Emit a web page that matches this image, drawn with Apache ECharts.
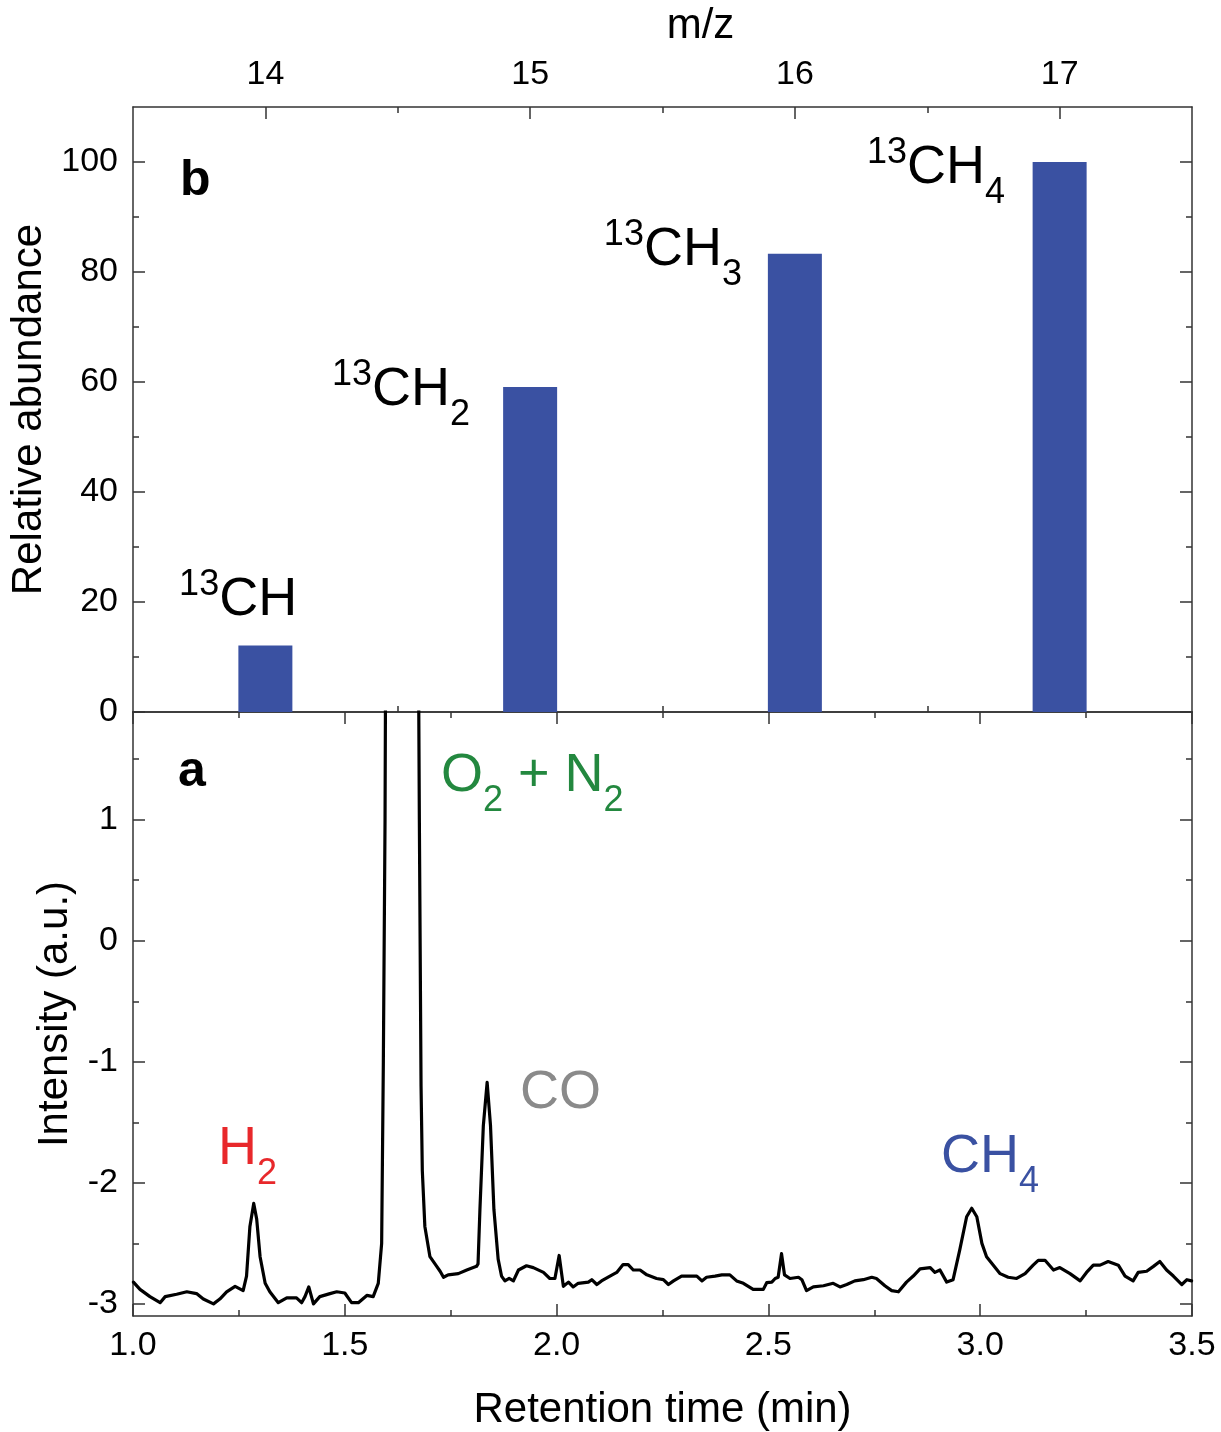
<!DOCTYPE html>
<html>
<head>
<meta charset="utf-8">
<script src="https://cdn.jsdelivr.net/npm/echarts@6/dist/echarts.min.js"></script>
<style>
  html, body { margin: 0; padding: 0; background: #fff; }
  #main { width: 1221px; height: 1432px; }
</style>
</head>
<body>
<div id="main"></div>
<script>
// panel b: mass spectrum of 13CH4
var mzValues = [14, 15, 16, 17];
var abundance = [12.1, 59.1, 83.3, 100];
var abundanceTicks = [0, 20, 40, 60, 80, 100];
var abundanceMinor = [10, 30, 50, 70, 90];
var mzMinor = [14.5, 15.5, 16.5];

// panel a: chromatogram trace
var retTime = [1.001, 1.0165, 1.040, 1.064, 1.076, 1.103, 1.127, 1.150, 1.166, 1.190, 1.205, 1.221, 1.241, 1.260,
  1.268, 1.276, 1.285, 1.292, 1.300, 1.312, 1.323, 1.343, 1.363, 1.386, 1.398, 1.406, 1.415, 1.426, 1.441,
  1.465, 1.481, 1.500, 1.516, 1.532, 1.552, 1.567, 1.579, 1.587, 1.591, 1.595, 1.597, 1.635, 1.673, 1.676,
  1.680, 1.683, 1.689, 1.701, 1.717, 1.725, 1.733, 1.744, 1.768, 1.788, 1.811, 1.8145, 1.819, 1.827, 1.836,
  1.844, 1.852, 1.862, 1.870, 1.878, 1.888, 1.898, 1.910, 1.929, 1.945, 1.969, 1.984, 1.996, 2.006, 2.016,
  2.028, 2.039, 2.051, 2.075, 2.083, 2.095, 2.106, 2.126, 2.142, 2.157, 2.169, 2.181, 2.197, 2.213, 2.236,
  2.252, 2.264, 2.276, 2.295, 2.311, 2.331, 2.343, 2.354, 2.374, 2.390, 2.409, 2.425, 2.441, 2.464, 2.488,
  2.496, 2.508, 2.516, 2.523, 2.531, 2.538, 2.551, 2.571, 2.579, 2.590, 2.606, 2.630, 2.653, 2.669, 2.685,
  2.704, 2.724, 2.744, 2.755, 2.775, 2.791, 2.807, 2.826, 2.842, 2.858, 2.882, 2.893, 2.905, 2.921, 2.936,
  2.952, 2.968, 2.980, 2.992, 3.004, 3.015, 3.031, 3.047, 3.066, 3.086, 3.106, 3.125, 3.137, 3.153, 3.173,
  3.188, 3.212, 3.236, 3.251, 3.267, 3.283, 3.302, 3.326, 3.342, 3.361, 3.373, 3.393, 3.409, 3.424, 3.440,
  3.456, 3.476, 3.488, 3.499];
var intensity = [-2.82, -2.88, -2.94, -2.99, -2.94, -2.92, -2.90, -2.915, -2.96, -3.00, -2.96, -2.90, -2.855, -2.89,
  -2.77, -2.36, -2.17, -2.30, -2.61, -2.83, -2.90, -2.99, -2.95, -2.95, -2.99, -2.94, -2.86, -3.00, -2.94,
  -2.915, -2.90, -2.91, -2.99, -2.99, -2.93, -2.94, -2.83, -2.5, -1.0, 1.0, 3.0, 14, 3.0, 1.0,
  -1.2, -1.9, -2.36, -2.61, -2.69, -2.73, -2.78, -2.76, -2.75, -2.72, -2.69, -2.67, -2.22, -1.53, -1.17,
  -1.53, -2.22, -2.63, -2.77, -2.81, -2.79, -2.81, -2.72, -2.685, -2.70, -2.74, -2.79, -2.79, -2.60, -2.855,
  -2.82, -2.86, -2.83, -2.82, -2.80, -2.84, -2.81, -2.77, -2.74, -2.675, -2.675, -2.72, -2.72, -2.76, -2.79,
  -2.80, -2.84, -2.81, -2.77, -2.77, -2.77, -2.81, -2.78, -2.77, -2.76, -2.76, -2.81, -2.83, -2.88, -2.88,
  -2.825, -2.82, -2.79, -2.78, -2.585, -2.76, -2.79, -2.78, -2.80, -2.89, -2.86, -2.85, -2.83, -2.86, -2.84,
  -2.81, -2.80, -2.78, -2.79, -2.85, -2.89, -2.90, -2.82, -2.77, -2.71, -2.70, -2.74, -2.72, -2.82, -2.80,
  -2.55, -2.28, -2.21, -2.28, -2.50, -2.61, -2.68, -2.75, -2.78, -2.79, -2.75, -2.68, -2.64, -2.64, -2.72,
  -2.70, -2.75, -2.81, -2.74, -2.68, -2.68, -2.65, -2.68, -2.77, -2.81, -2.74, -2.73, -2.69, -2.65, -2.72,
  -2.77, -2.84, -2.80, -2.81];
var intensityTicks = [-3, -2, -1, 0, 1];
var intensityMinor = [-2.5, -1.5, -0.5, 0.5, 1.5];

// annotations
var topLabels = ['{sup|13}{m|CH}', '{sup|13}{m|CH}{sub|2}', '{sup|13}{m|CH}{sub|3}', '{sup|13}{m|CH}{sub|4}'];
var topLabelAt = [[14.12, 20.4], [14.773, 58.6], [15.80, 84.0], [16.794, 98.9]];
var peakLabels = ['{m|H}{sub|2}', '{m|O}{sub|2}{m| + N}{sub|2}', '{m|CO}', '{m|CH}{sub|4}'];
var peakLabelAt = [[1.2007, -1.72], [1.727, 1.36], [1.9136, -1.255], [2.9075, -1.785]];
var peakColors = ['#e8282b', '#23883f', '#8a8a8a', '#3a51a2'];

var FONT = "'Liberation Sans', Arial, sans-serif";
var AXIS_COLOR = '#333';

var rich = {
  m: { fontSize: 54, lineHeight: 96, fontFamily: FONT },
  sup: { fontSize: 36, lineHeight: 36, verticalAlign: 'top', padding: [15, 0, 0, 0], fontFamily: FONT },
  sub: { fontSize: 36, lineHeight: 36, verticalAlign: 'top', padding: [55, 0, 0, 0], fontFamily: FONT }
};

function valueAxis(o) {
  return {
    type: 'value',
    gridIndex: o.grid,
    position: o.pos,
    min: o.min,
    max: o.max,
    interval: o.interval,
    axisLine: { show: !!o.line, onZero: false, lineStyle: { color: AXIS_COLOR, width: 1.5 } },
    axisTick: {
      show: true, inside: true, length: o.len,
      customValues: o.ticks,
      lineStyle: { color: AXIS_COLOR, width: 1.5 }
    },
    minorTick: o.minor ? { show: true, splitNumber: 2, length: 6, lineStyle: { color: AXIS_COLOR, width: 1.5 } } : { show: false },
    axisLabel: o.labels ? {
      show: true, customValues: o.labels, margin: o.margin, formatter: o.fmt,
      color: '#000', fontSize: 34, fontFamily: FONT
    } : { show: false },
    splitLine: { show: false },
    minorSplitLine: { show: false },
    name: o.name || '',
    nameLocation: 'middle',
    nameGap: o.nameGap,
    nameRotate: o.nameRotate,
    nameTextStyle: { color: '#000', fontSize: 42, fontFamily: FONT, padding: o.namePad || 0 }
  };
}

var chart = echarts.init(document.getElementById('main'));

var option = {
  animation: false,
  backgroundColor: '#fff',
  title: [
    { text: 'b', left: 175, top: 151, textStyle: { fontSize: 50, fontWeight: 'bold', color: '#000', fontFamily: FONT } },
    { text: 'a', left: 173, top: 742, textStyle: { fontSize: 50, fontWeight: 'bold', color: '#000', fontFamily: FONT } }
  ],
  grid: [
    { left: 133, top: 107, width: 1059, height: 605, outerBoundsMode: 'none' },
    { left: 133, top: 712, width: 1059, height: 604, outerBoundsMode: 'none' }
  ],
  xAxis: [
    valueAxis({ grid: 0, pos: 'top', min: 13.5, max: 17.5, line: true, len: 12, ticks: mzValues, labels: mzValues,
      margin: 15, name: 'm/z', nameGap: 60, namePad: [0, 0, 0, 76] }),
    valueAxis({ grid: 0, pos: 'top', min: 13.5, max: 17.5, len: 6, ticks: mzMinor }),
    valueAxis({ grid: 0, pos: 'bottom', min: 13.5, max: 17.5, line: true, len: 12, ticks: mzValues }),
    valueAxis({ grid: 0, pos: 'bottom', min: 13.5, max: 17.5, len: 6, ticks: mzMinor }),
    valueAxis({ grid: 1, pos: 'bottom', min: 1, max: 3.5, interval: 0.5, line: true, len: 12, minor: true,
      labels: [1, 1.5, 2, 2.5, 3, 3.5], margin: 13, fmt: function (v) { return v.toFixed(1); },
      name: 'Retention time (min)', nameGap: 73 }),
    valueAxis({ grid: 1, pos: 'top', min: 1, max: 3.5, interval: 0.5, line: true, len: 12, minor: true })
  ],
  yAxis: [
    valueAxis({ grid: 0, pos: 'left', min: 0, max: 110, line: true, len: 12, ticks: abundanceTicks, labels: abundanceTicks,
      margin: 15, name: 'Relative abundance', nameGap: 79, nameRotate: 90 }),
    valueAxis({ grid: 0, pos: 'left', min: 0, max: 110, len: 6, ticks: abundanceMinor }),
    valueAxis({ grid: 0, pos: 'right', min: 0, max: 110, line: true, len: 12, ticks: abundanceTicks }),
    valueAxis({ grid: 0, pos: 'right', min: 0, max: 110, len: 6, ticks: abundanceMinor }),
    valueAxis({ grid: 1, pos: 'left', min: -3.1, max: 1.89, line: true, len: 12, ticks: intensityTicks, labels: intensityTicks,
      margin: 15, name: 'Intensity (a.u.)', nameGap: 50, nameRotate: 90 }),
    valueAxis({ grid: 1, pos: 'left', min: -3.1, max: 1.89, len: 6, ticks: intensityMinor }),
    valueAxis({ grid: 1, pos: 'right', min: -3.1, max: 1.89, line: true, len: 12, ticks: intensityTicks }),
    valueAxis({ grid: 1, pos: 'right', min: -3.1, max: 1.89, len: 6, ticks: intensityMinor })
  ],
  series: [
    {
      name: 'Relative abundance',
      type: 'bar',
      xAxisIndex: 0,
      yAxisIndex: 0,
      barWidth: 54,
      itemStyle: { color: '#3a51a2' },
      data: mzValues.map(function (mz, i) { return [mz, abundance[i]]; })
    },
    {
      name: 'Chromatogram',
      type: 'line',
      xAxisIndex: 4,
      yAxisIndex: 4,
      symbol: 'none',
      clip: true,
      lineStyle: { color: '#000', width: 3.2, join: 'round', cap: 'round' },
      data: retTime.map(function (t, i) { return [t, intensity[i]]; })
    },
    {
      name: 'mz labels',
      type: 'scatter',
      xAxisIndex: 0,
      yAxisIndex: 0,
      symbolSize: 1,
      itemStyle: { color: 'rgba(0,0,0,0)' },
      silent: true,
      label: { show: true, position: 'inside', align: 'right', verticalAlign: 'middle', color: '#000', opacity: 1, rich: rich },
      data: topLabels.map(function (txt, i) {
        return { value: topLabelAt[i], label: { formatter: txt } };
      })
    },
    {
      name: 'peak labels',
      type: 'scatter',
      xAxisIndex: 4,
      yAxisIndex: 4,
      symbolSize: 1,
      itemStyle: { color: 'rgba(0,0,0,0)' },
      silent: true,
      label: { show: true, position: 'inside', align: 'left', verticalAlign: 'middle', opacity: 1, rich: rich },
      data: peakLabels.map(function (txt, i) {
        return { value: peakLabelAt[i], label: { formatter: txt, color: peakColors[i] } };
      })
    }
  ]
};

chart.setOption(option);
</script>
</body>
</html>
